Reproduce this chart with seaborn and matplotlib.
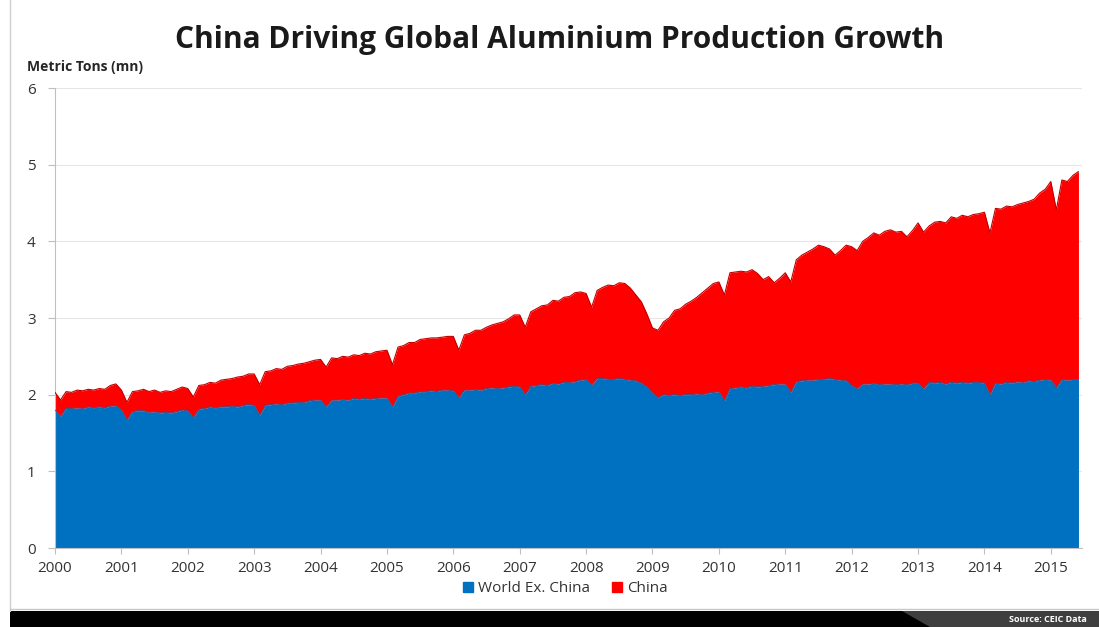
import numpy as np
import pandas as pd
import matplotlib
matplotlib.use("Agg")
import matplotlib.pyplot as plt
import seaborn as sns
from matplotlib.patches import Rectangle, Polygon
from matplotlib.lines import Line2D

# ---------------- data (monthly, Jan 2000 - Jun 2015, million metric tons) ----------------
series_names = ["World Ex. China", "China"]
year_ticks = list(range(2000, 2016))
start_year = 2000

world_ex_china = [
    # 2000
    1.80, 1.72, 1.82, 1.82, 1.83, 1.82, 1.84, 1.83, 1.84, 1.83, 1.85, 1.86,
    # 2001
    1.80, 1.67, 1.78, 1.79, 1.79, 1.77, 1.78, 1.76, 1.77, 1.76, 1.78, 1.80,
    # 2002
    1.79, 1.70, 1.81, 1.82, 1.84, 1.83, 1.84, 1.84, 1.85, 1.84, 1.86, 1.87,
    # 2003
    1.86, 1.73, 1.86, 1.87, 1.88, 1.87, 1.89, 1.89, 1.90, 1.90, 1.92, 1.93,
    # 2004
    1.93, 1.84, 1.93, 1.93, 1.94, 1.93, 1.95, 1.94, 1.95, 1.94, 1.95, 1.96,
    # 2005
    1.96, 1.84, 1.98, 2.00, 2.02, 2.02, 2.04, 2.04, 2.05, 2.04, 2.06, 2.06,
    # 2006
    2.05, 1.96, 2.06, 2.06, 2.07, 2.06, 2.08, 2.09, 2.08, 2.09, 2.10, 2.11,
    # 2007
    2.10, 2.00, 2.11, 2.12, 2.13, 2.12, 2.15, 2.14, 2.16, 2.16, 2.17, 2.19,
    # 2008
    2.20, 2.13, 2.21, 2.21, 2.20, 2.20, 2.21, 2.20, 2.19, 2.18, 2.15, 2.10,
    # 2009
    2.02, 1.96, 2.00, 1.99, 2.00, 1.99, 2.00, 2.00, 2.01, 2.00, 2.02, 2.03,
    # 2010
    2.04, 1.92, 2.08, 2.09, 2.10, 2.09, 2.11, 2.10, 2.11, 2.12, 2.13, 2.14,
    # 2011
    2.14, 2.03, 2.17, 2.18, 2.19, 2.19, 2.20, 2.20, 2.21, 2.20, 2.19, 2.18,
    # 2012
    2.12, 2.08, 2.14, 2.14, 2.15, 2.13, 2.14, 2.14, 2.13, 2.14, 2.13, 2.15,
    # 2013
    2.15, 2.08, 2.16, 2.15, 2.16, 2.14, 2.16, 2.15, 2.16, 2.15, 2.16, 2.16,
    # 2014
    2.15, 2.00, 2.15, 2.14, 2.16, 2.15, 2.17, 2.16, 2.18, 2.17, 2.19, 2.20,
    # 2015
    2.19, 2.09, 2.20, 2.19, 2.20, 2.20,
]

china = [
    # 2000
    0.23, 0.21, 0.22, 0.21, 0.23, 0.23, 0.23, 0.23, 0.24, 0.24, 0.27, 0.28,
    # 2001
    0.26, 0.23, 0.26, 0.26, 0.28, 0.27, 0.28, 0.27, 0.28, 0.28, 0.29, 0.30,
    # 2002
    0.29, 0.27, 0.31, 0.31, 0.32, 0.32, 0.35, 0.36, 0.36, 0.39, 0.38, 0.40,
    # 2003
    0.41, 0.40, 0.44, 0.44, 0.46, 0.46, 0.48, 0.49, 0.50, 0.51, 0.51, 0.52,
    # 2004
    0.53, 0.52, 0.55, 0.54, 0.56, 0.56, 0.57, 0.57, 0.59, 0.59, 0.61, 0.61,
    # 2005
    0.62, 0.55, 0.64, 0.64, 0.66, 0.66, 0.68, 0.69, 0.69, 0.70, 0.69, 0.70,
    # 2006
    0.71, 0.62, 0.72, 0.74, 0.77, 0.78, 0.80, 0.82, 0.85, 0.86, 0.89, 0.93,
    # 2007
    0.94, 0.88, 0.97, 1.00, 1.03, 1.05, 1.08, 1.08, 1.11, 1.12, 1.16, 1.15,
    # 2008
    1.12, 1.01, 1.15, 1.19, 1.23, 1.22, 1.25, 1.25, 1.20, 1.12, 1.06, 0.95,
    # 2009
    0.85, 0.88, 0.95, 1.01, 1.10, 1.13, 1.18, 1.22, 1.26, 1.33, 1.37, 1.42,
    # 2010
    1.43, 1.38, 1.51, 1.51, 1.51, 1.51, 1.52, 1.48, 1.39, 1.42, 1.33, 1.38,
    # 2011
    1.45, 1.44, 1.59, 1.64, 1.67, 1.71, 1.75, 1.73, 1.69, 1.62, 1.69, 1.77,
    # 2012
    1.81, 1.80, 1.86, 1.91, 1.96, 1.95, 1.99, 2.01, 1.99, 1.99, 1.93, 1.99,
    # 2013
    2.09, 2.04, 2.04, 2.10, 2.10, 2.10, 2.16, 2.15, 2.18, 2.17, 2.19, 2.20,
    # 2014
    2.23, 2.11, 2.28, 2.28, 2.30, 2.30, 2.31, 2.34, 2.34, 2.38, 2.44, 2.48,
    # 2015
    2.59, 2.32, 2.60, 2.59, 2.66, 2.71,
]

y_ticks = [0, 1, 2, 3, 4, 5, 6]

# ---------------- styling ----------------
blue = "#0070C0"
red = "#FF0000"
axis_gray = "#BFBFBF"
text_gray = "#333333"

sns.set_theme(style="white")
plt.rcParams["font.family"] = ["Open Sans", "DejaVu Sans"]

df = pd.DataFrame({
    "t": start_year + np.arange(len(china)) / 12.0,
    series_names[0]: world_ex_china,
    series_names[1]: china,
})
df["top_world"] = df[series_names[0]]
df["top_china"] = df[series_names[0]] + df[series_names[1]]

fig = plt.figure(figsize=(10.99, 6.27), dpi=100)
ax = fig.add_axes([55 / 1099, 79 / 627, (1082 - 55) / 1099, (548 - 88) / 627])

ax.stackplot(df["t"], df[series_names[0]], df[series_names[1]],
             colors=[blue, red], linewidth=0, zorder=2)
sns.lineplot(data=df, x="t", y="top_china", color="#C00000", linewidth=0.8,
             ax=ax, zorder=3)
sns.lineplot(data=df, x="t", y="top_world", color="#1F5FA0", linewidth=0.6,
             ax=ax, zorder=3)

ax.set_xlim(2000, 2015.47)
ax.set_ylim(0, 6)
ax.set_yticks(y_ticks)
ax.set_yticklabels([str(v) for v in y_ticks])
ax.set_xticks(year_ticks)
ax.set_xticklabels([str(y) for y in year_ticks])
ax.set_xlabel("")
ax.set_ylabel("")

ax.yaxis.grid(True, color="#E6E6E6", linewidth=0.8, zorder=0)
ax.xaxis.grid(False)
ax.set_axisbelow(True)
for s in ["top", "right"]:
    ax.spines[s].set_visible(False)
for s in ["left", "bottom"]:
    ax.spines[s].set_color(axis_gray)
    ax.spines[s].set_linewidth(0.8)

ax.tick_params(axis="y", which="major", direction="out", length=5, width=0.8,
               color=axis_gray, pad=9, labelsize=11, labelcolor=text_gray, left=True)
ax.tick_params(axis="x", which="major", direction="out", length=4, width=0.8,
               color=axis_gray, pad=5, labelsize=11, labelcolor=text_gray, bottom=True)

# Title and axis unit label
fig.text(560 / 1099, 1 - 40 / 627, "China Driving Global Aluminium Production Growth",
         ha="center", va="center", fontsize=21.5, fontweight="bold", color="#1a1a1a")
fig.text(27 / 1099, 1 - 67 / 627, "Metric Tons (mn)", ha="left", va="center",
         fontsize=10, fontweight="bold", color="#262626")

# Legend
handles = [Line2D([0], [0], marker="s", linestyle="none", markersize=6.5,
                  markerfacecolor=c, markeredgecolor=c) for c in [blue, red]]
fig.legend(handles, series_names, loc="center", bbox_to_anchor=(565 / 1099, 1 - 589 / 627),
           ncol=2, frameon=False, fontsize=11, handlelength=0.7, handletextpad=0.3,
           columnspacing=1.4, labelcolor=text_gray, borderaxespad=0)

# Slide decorations: left border, bottom bar, source tab
fig.add_artist(Line2D([10 / 1099, 10 / 1099], [16 / 627, 1], transform=fig.transFigure,
                      color="#D0D0D0", linewidth=1))
fig.add_artist(Line2D([10 / 1099, 1], [18 / 627, 18 / 627], transform=fig.transFigure,
                      color="#C8C8C8", linewidth=1))
fig.add_artist(Rectangle((10 / 1099, 0), 1, 16 / 627, transform=fig.transFigure,
                         facecolor="black", edgecolor="none"))
fig.add_artist(Polygon([(902 / 1099, 16 / 627), (1, 16 / 627), (1, 0), (930 / 1099, 0)],
                       closed=True, transform=fig.transFigure,
                       facecolor="#3F3F3F", edgecolor="none"))
fig.text(1087 / 1099, 7.5 / 627, "Source: CEIC Data", ha="right", va="center",
         fontsize=6.5, fontweight="bold", color="white")

fig.savefig("out.png", dpi=100)
